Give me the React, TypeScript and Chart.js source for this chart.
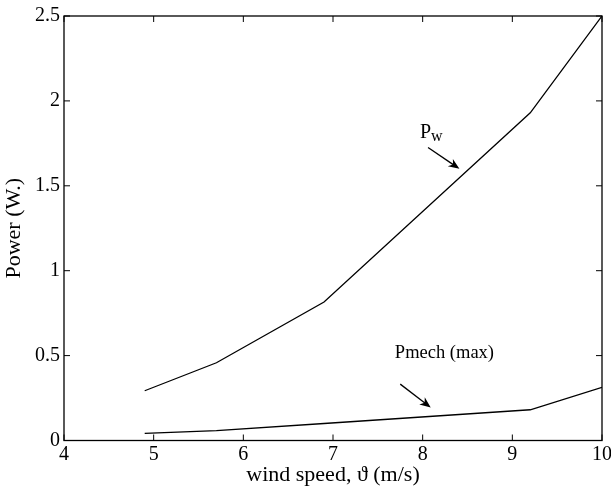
import React, { useEffect, useRef } from "react";
import { Chart, registerables } from "chart.js";

Chart.register(...registerables);

const windSpeed = [4.9, 5.7, 6.9, 9.2, 10];
const pWind = [0.293, 0.458, 0.816, 1.93, 2.5];
const pMech = [0.042, 0.058, 0.1, 0.181, 0.313];

const xTicks = [4, 5, 6, 7, 8, 9, 10];
const yTicks = [0, 0.5, 1, 1.5, 2, 2.5];
const yTickLabels = ["0", "0.5", "1", "1.5", "2", "2.5"];

// annotation anchors in data units
const pwLabel = { x: 7.97, y: 1.81 };
const pwArrow = { x0: 8.06, y0: 1.726, x1: 8.41, y1: 1.6 };
const pmLabel = { x: 7.69, y: 0.515, text: "Pmech (max)" };
const pmArrow = { x0: 7.75, y0: 0.332, x1: 8.09, y1: 0.194 };

const FONT = "'Liberation Serif', 'Times New Roman', serif";

function drawArrow(ctx: CanvasRenderingContext2D, x0: number, y0: number, x1: number, y1: number) {
  const ang = Math.atan2(y1 - y0, x1 - x0);
  const len = 11;
  const wid = 4.5;
  ctx.beginPath();
  ctx.moveTo(x0, y0);
  ctx.lineTo(x1 - Math.cos(ang) * len * 0.6, y1 - Math.sin(ang) * len * 0.6);
  ctx.lineWidth = 1.3;
  ctx.strokeStyle = "#000";
  ctx.stroke();
  const bx = x1 - Math.cos(ang) * len;
  const by = y1 - Math.sin(ang) * len;
  const mx = x1 - Math.cos(ang) * len * 0.7;
  const my = y1 - Math.sin(ang) * len * 0.7;
  ctx.beginPath();
  ctx.moveTo(x1, y1);
  ctx.lineTo(bx + Math.sin(ang) * wid, by - Math.cos(ang) * wid);
  ctx.lineTo(mx, my);
  ctx.lineTo(bx - Math.sin(ang) * wid, by + Math.cos(ang) * wid);
  ctx.closePath();
  ctx.fillStyle = "#000";
  ctx.fill();
}

const boxPlugin = {
  id: "matlabBox",
  afterDraw(chart: any) {
    const { ctx, chartArea: a, scales } = chart;
    const xs = scales.x;
    const ys = scales.y;
    ctx.save();
    ctx.strokeStyle = "#000";
    ctx.lineWidth = 1.3;
    ctx.strokeRect(a.left, a.top, a.right - a.left, a.bottom - a.top);
    const tl = 6;
    ctx.lineWidth = 1;
    ctx.beginPath();
    xTicks.forEach((v) => {
      const px = xs.getPixelForValue(v);
      ctx.moveTo(px, a.bottom);
      ctx.lineTo(px, a.bottom - tl);
      ctx.moveTo(px, a.top);
      ctx.lineTo(px, a.top + tl);
    });
    yTicks.forEach((v) => {
      const py = ys.getPixelForValue(v);
      ctx.moveTo(a.left, py);
      ctx.lineTo(a.left + tl, py);
      ctx.moveTo(a.right, py);
      ctx.lineTo(a.right - tl, py);
    });
    ctx.stroke();

    // annotations
    ctx.fillStyle = "#000";
    ctx.textBaseline = "middle";
    ctx.textAlign = "left";
    const px = xs.getPixelForValue(pwLabel.x);
    const py = ys.getPixelForValue(pwLabel.y);
    ctx.font = `20px ${FONT}`;
    ctx.fillText("P", px, py);
    const pw = ctx.measureText("P").width;
    ctx.font = `16px ${FONT}`;
    ctx.fillText("w", px + pw, py + 4);
    drawArrow(ctx, xs.getPixelForValue(pwArrow.x0), ys.getPixelForValue(pwArrow.y0), xs.getPixelForValue(pwArrow.x1), ys.getPixelForValue(pwArrow.y1));

    ctx.font = `18.5px ${FONT}`;
    ctx.fillText(pmLabel.text, xs.getPixelForValue(pmLabel.x), ys.getPixelForValue(pmLabel.y));
    drawArrow(ctx, xs.getPixelForValue(pmArrow.x0), ys.getPixelForValue(pmArrow.y0), xs.getPixelForValue(pmArrow.x1), ys.getPixelForValue(pmArrow.y1));
    ctx.restore();
  },
};

export default function App() {
  const ref = useRef<HTMLCanvasElement | null>(null);
  useEffect(() => {
    if (!ref.current) return;
    const chart = new Chart(ref.current, {
      type: "line",
      data: {
        datasets: [
          {
            label: "Pw",
            data: windSpeed.map((x, i) => ({ x, y: pWind[i] })),
            borderColor: "#000",
            borderWidth: 1.3,
            pointRadius: 0,
            tension: 0,
          },
          {
            label: "Pmech (max)",
            data: windSpeed.map((x, i) => ({ x, y: pMech[i] })),
            borderColor: "#000",
            borderWidth: 1.3,
            pointRadius: 0,
            tension: 0,
          },
        ],
      },
      options: {
        animation: false,
        responsive: false,
        devicePixelRatio: 1,
        layout: { padding: { top: 16, right: 9, left: 0, bottom: 0 } },
        plugins: { legend: { display: false }, tooltip: { enabled: false }, title: { display: false } },
        scales: {
          x: {
            type: "linear",
            min: 4,
            max: 10,
            afterBuildTicks: (s: any) => {
              s.ticks = xTicks.map((v) => ({ value: v }));
            },
            afterFit: (s: any) => {
              s.height = 48.5;
              s.paddingLeft = 0;
              s.paddingRight = 0;
            },
            grid: { display: false, drawTicks: false },
            border: { display: false },
            ticks: {
              color: "#000",
              font: { family: FONT, size: 20 },
              padding: 2,
              maxRotation: 0,
              autoSkip: false,
              callback: (v: any) => String(v),
            },
            title: {
              display: true,
              text: "wind speed, ϑ (m/s)",
              color: "#000",
              font: { family: FONT, size: 22 },
              padding: { top: 0, bottom: 1 },
            },
          },
          y: {
            type: "linear",
            min: 0,
            max: 2.5,
            afterBuildTicks: (s: any) => {
              s.ticks = yTicks.map((v) => ({ value: v }));
            },
            afterFit: (s: any) => {
              s.width = 64;
              s.paddingTop = 0;
              s.paddingBottom = 0;
            },
            grid: { display: false, drawTicks: false },
            border: { display: false },
            ticks: {
              color: "#000",
              font: { family: FONT, size: 20 },
              padding: 4,
              autoSkip: false,
              callback: (v: any) => {
                const i = yTicks.indexOf(Number(v));
                return i >= 0 ? yTickLabels[i] : String(v);
              },
            },
            title: {
              display: true,
              text: "Power (W.)",
              color: "#000",
              font: { family: FONT, size: 22 },
              padding: { top: 1, bottom: 0 },
            },
          },
        },
      },
      plugins: [boxPlugin],
    });
    return () => chart.destroy();
  }, []);
  return (
    <div style={{ position: "absolute", left: 0, top: 0, width: 611, height: 489, background: "#fff" }}>
      <canvas ref={ref} width={611} height={489} style={{ display: "block", width: 611, height: 489 }} />
    </div>
  );
}
